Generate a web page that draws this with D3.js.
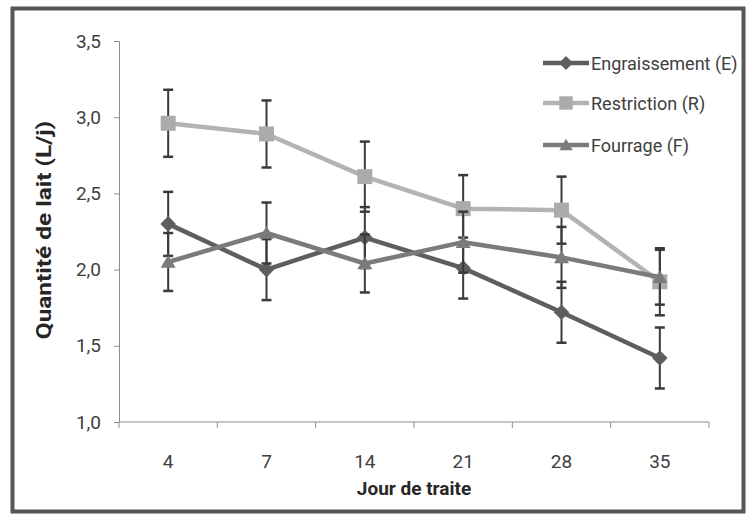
<!DOCTYPE html>
<html><head><meta charset="utf-8">
<script src="https://cdn.jsdelivr.net/npm/d3@7"></script>
<style>body{margin:0;background:#fff}svg{display:block}text{font-family:Roboto,"Open Sans",sans-serif}</style>
</head><body>
<svg id="c" width="751" height="515"></svg>
<script>
const days = ["4","7","14","21","28","35"];
const engraissement = [2.30, 2.00, 2.21, 2.01, 1.72, 1.42];
const engraissementErr = [0.21, 0.20, 0.20, 0.20, 0.20, 0.20];
const restriction = [2.96, 2.89, 2.61, 2.40, 2.39, 1.92];
const restrictionErr = [0.22, 0.22, 0.23, 0.22, 0.22, 0.22];
const fourrage = [2.05, 2.24, 2.04, 2.18, 2.08, 1.95];
const fourrageErr = [0.19, 0.20, 0.19, 0.20, 0.20, 0.18];
const yTicks = [1.0, 1.5, 2.0, 2.5, 3.0, 3.5];
const yTickLabels = ["1,0", "1,5", "2,0", "2,5", "3,0", "3,5"];
const seriesNames = ["Engraissement (E)", "Restriction (R)", "Fourrage (F)"];

const diamond = {draw(ctx, size) { const r = Math.sqrt(size) / Math.SQRT2 * 1.0;
  ctx.moveTo(0, -r); ctx.lineTo(r, 0); ctx.lineTo(0, r); ctx.lineTo(-r, 0); ctx.closePath(); }};
const triangle = {draw(ctx, size) { const w = Math.sqrt(size); const h = w * 0.85;
  ctx.moveTo(0, -h * 0.55); ctx.lineTo(w / 2, h * 0.45); ctx.lineTo(-w / 2, h * 0.45); ctx.closePath(); }};

const series = [
  {name: seriesNames[0], v: engraissement, e: engraissementErr, color: "#5e5e5e", sym: diamond, size: 121},
  {name: seriesNames[1], v: restriction, e: restrictionErr, color: "#a9abad", line: "#b3b3b3", sym: d3.symbolSquare, size: 225},
  {name: seriesNames[2], v: fourrage, e: fourrageErr, color: "#7b7b7b", sym: triangle, size: 225}
];

const svg = d3.select("#c");
svg.append("rect").attr("x", 12.5).attr("y", 8.5).attr("width", 731).attr("height", 503)
  .attr("fill", "#fff").attr("stroke", "#575757").attr("stroke-width", 4);

const x = d3.scaleBand().domain(days).range([119, 709]);
const y = d3.scaleLinear().domain([1, 3.5]).range([422, 41]);
const axisColor = "#8c8c8c";

const yAxis = svg.append("g").attr("transform", "translate(119,0)")
  .call(d3.axisLeft(y).tickValues(yTicks).tickSize(5).tickPadding(13)
    .tickFormat((d, i) => yTickLabels[i]));
yAxis.selectAll("path,line").attr("stroke", axisColor);
yAxis.selectAll("text").attr("font-size", 19).attr("fill", "#404040").attr("font-family", "Roboto");

const xAxis = svg.append("g").attr("transform", "translate(0,422)")
  .call(d3.axisBottom(x).tickSize(0).tickPadding(33));
xAxis.select("path").attr("stroke", axisColor).attr("d", `M${x.range()[0]},0H${x.range()[1]}`);
xAxis.selectAll("text").attr("font-size", 19).attr("fill", "#404040").attr("font-family", "Roboto");
const bounds = days.map(d => x(d)).concat([x.range()[1]]);
xAxis.selectAll(".bt").data(bounds).join("line").attr("class", "bt")
  .attr("x1", d => d).attr("x2", d => d).attr("y1", 0).attr("y2", 6).attr("stroke", axisColor);

svg.append("text").attr("transform", "translate(44,230) rotate(-90) scale(1.22,1)")
  .attr("text-anchor", "middle").attr("dominant-baseline", "central")
  .attr("font-size", 20).attr("font-weight", "bold").attr("fill", "#262626")
  .text("Quantité de lait (L/j)");
svg.append("text").attr("x", (x.range()[0] + x.range()[1]) / 2).attr("y", 488)
  .attr("text-anchor", "middle").attr("dominant-baseline", "central")
  .attr("font-size", 19).attr("font-weight", "bold").attr("fill", "#262626")
  .text("Jour de traite");

const cx = d => x(d) + x.bandwidth() / 2;
const line = d3.line().x((d, i) => cx(days[i])).y(d => y(d));

const plot = svg.append("g");
series.forEach(s => {
  const g = plot.append("g");
  s.v.forEach((v, i) => {
    const px = cx(days[i]);
    const top = y(v + s.e[i]), bot = y(v - s.e[i]);
    g.append("line").attr("x1", px).attr("x2", px).attr("y1", top).attr("y2", bot)
      .attr("stroke", "#3a3a3a").attr("stroke-width", 2);
    [top, bot].forEach(yy => g.append("line").attr("x1", px - 5).attr("x2", px + 5)
      .attr("y1", yy).attr("y2", yy).attr("stroke", "#3a3a3a").attr("stroke-width", 2.5));
  });
  g.append("path").attr("d", line(s.v)).attr("fill", "none")
    .attr("stroke", s.line || s.color).attr("stroke-width", 4.5).attr("stroke-linejoin", "round");
  g.selectAll(".m").data(s.v).join("path").attr("class", "m")
    .attr("transform", (d, i) => `translate(${cx(days[i])},${y(d)})`)
    .attr("d", d3.symbol().type(s.sym).size(s.size)).attr("fill", s.color);
});

const lg = svg.append("g");
const rows = [63, 103, 145];
series.forEach((s, i) => {
  const r = lg.append("g").attr("transform", `translate(0,${rows[i]})`);
  r.append("line").attr("x1", 543).attr("x2", 589).attr("y1", 0).attr("y2", 0)
    .attr("stroke", s.line || s.color).attr("stroke-width", 4.5);
  r.append("path").attr("transform", "translate(566,0)")
    .attr("d", d3.symbol().type(s.sym).size(s.size * 0.8)).attr("fill", s.color);
  r.append("text").attr("x", 591).attr("y", 0).attr("dominant-baseline", "central")
    .attr("font-size", 18).attr("fill", "#404040").text(s.name);
});
</script>
</body></html>
